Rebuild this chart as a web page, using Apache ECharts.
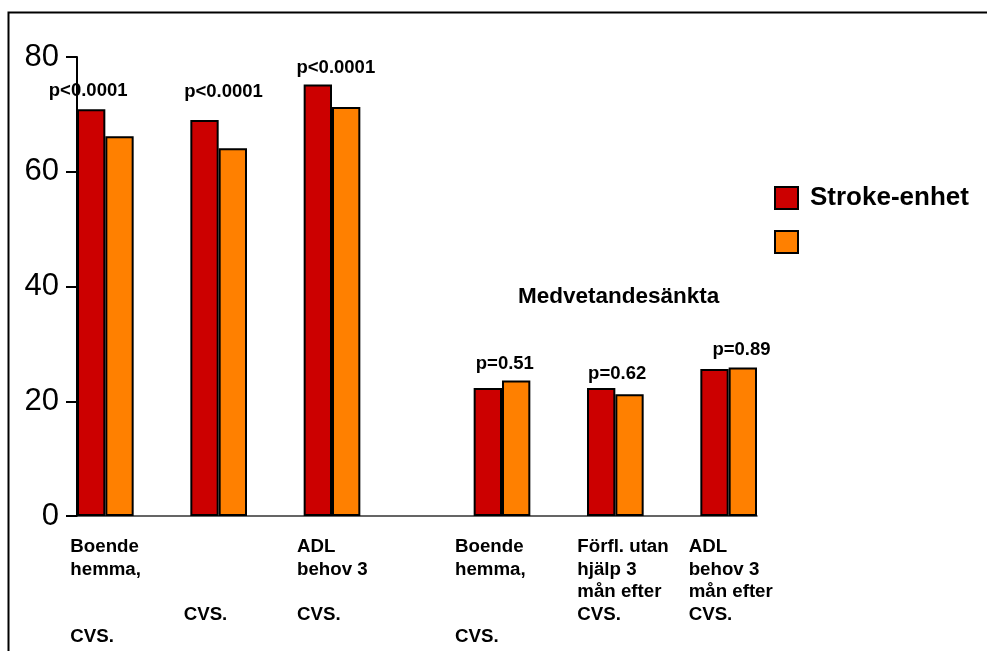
<!DOCTYPE html>
<html>
<head>
<meta charset="utf-8">
<script src="https://cdn.jsdelivr.net/npm/echarts@6/dist/echarts.min.js"></script>
<style>
  html, body { margin: 0; padding: 0; background: #fff; }
  #chart { width: 987px; height: 651px; }
</style>
</head>
<body>
<div id="chart"></div>
<script>
// Outcome groups; blank entries are spacer slots between the groups.
const categories = [
  'Boende\nhemma,\n\n\nCVS.', '',
  '\n\n\nCVS.', '',
  'ADL\nbehov 3\n\nCVS.', '', '',
  'Boende\nhemma,\n\n\nCVS.', '',
  'Förfl. utan\nhjälp 3\nmån efter\nCVS.', '',
  'ADL\nbehov 3\nmån efter\nCVS.'
];

// Percentages per care form
const strokeUnit = [70.9, null, 69.0, null, 75.2, null, null, 22.3, null, 22.3, null, 25.6];
const otherCare  = [66.2, null, 64.1, null, 71.3, null, null, 23.6, null, 21.2, null, 25.9];

// Significance for each group
const pValues = ['p<0.0001', '', 'p<0.0001', '', 'p<0.0001', '', '', 'p=0.51', '', 'p=0.62', '', 'p=0.89'];

const yTicks = { min: 0, max: 80, step: 20 };

// Styling: nudges for the p-value text and left edge of the category text
const pLabelNudge = [[-3, -4], [0, 0], [19, -14], [0, 0], [18, -2], [0, 0], [0, 0], [17, -10], [0, 0], [16, 0], [0, 0], [27, -5]];
const catLabelShift = [35, 0, 35, 0, 35, 0, 0, 47, 0, 38, 0, 40];

const FONT = '"Liberation Sans", Arial, Helvetica, sans-serif';
const RED = '#CC0000';
const ORANGE = '#FF8000';

const chart = echarts.init(document.getElementById('chart'), null, { renderer: 'canvas' });

const toRich = (txt) => txt.split('\n').map(s => '{t|' + (s === '' ? ' ' : s) + '}').join('\n');

chart.setOption({
  animation: false,
  backgroundColor: '#fff',
  textStyle: { fontFamily: FONT },
  graphic: [{
    type: 'rect',
    left: 6, top: 10,
    shape: { width: 1200, height: 900 },
    style: { fill: 'none', stroke: '#000', lineWidth: 2 },
    silent: true
  }],
  title: {
    text: 'Medvetandesänkta',
    left: 518, top: 286, padding: 0,
    textStyle: { fontFamily: FONT, fontSize: 22.5, fontWeight: 'bold', color: '#000', lineHeight: 22 }
  },
  legend: {
    orient: 'vertical',
    left: 774, top: 185,
    padding: 0,
    itemWidth: 23, itemHeight: 22, itemGap: 18,
    icon: 'rect',
    data: ['Stroke-enhet', ' '],
    textStyle: { fontFamily: FONT, fontSize: 26, fontWeight: 'bold', color: '#000', lineHeight: 22, padding: [0, 0, 0, 7] }
  },
  grid: { left: 77, top: 57, width: 680, height: 459, containLabel: false },
  xAxis: {
    type: 'category',
    data: categories.map((c, i) => ({
      value: c,
      textStyle: { width: catLabelShift[i] * 2 }
    })),
    axisLine: { show: true, lineStyle: { color: '#333', width: 1.5 } },
    axisTick: { show: false },
    axisLabel: {
      interval: 0,
      margin: 19.5,
      align: 'center',
      verticalAlign: 'top',
      formatter: (v) => toRich(v),
      rich: {
        t: { align: 'left', fontFamily: FONT, fontSize: 18.7, fontWeight: 'bold', color: '#000', lineHeight: 22.6 }
      }
    }
  },
  yAxis: {
    type: 'value',
    min: yTicks.min, max: yTicks.max, interval: yTicks.step,
    axisLine: { show: true, lineStyle: { color: '#000', width: 2 } },
    axisTick: { show: true, length: 11, lineStyle: { color: '#000', width: 2 } },
    splitLine: { show: false },
    axisLabel: { margin: 18, fontFamily: FONT, fontSize: 31, color: '#000' }
  },
  series: [
    {
      name: 'Stroke-enhet',
      type: 'bar',
      barGap: '0%',
      barCategoryGap: '0%',
      itemStyle: { color: RED, borderColor: '#000', borderWidth: 2 },
      label: {
        show: true,
        position: 'top',
        distance: 5,
        fontFamily: FONT, fontSize: 18.5, fontWeight: 'bold', color: '#000',
        formatter: (p) => pValues[p.dataIndex]
      },
      data: strokeUnit.map((v, i) => ({ value: v, label: { offset: pLabelNudge[i] } }))
    },
    {
      name: ' ',
      type: 'bar',
      barGap: '0%',
      barCategoryGap: '0%',
      itemStyle: { color: ORANGE, borderColor: '#000', borderWidth: 2 },
      data: otherCare
    }
  ]
});
</script>
</body>
</html>
